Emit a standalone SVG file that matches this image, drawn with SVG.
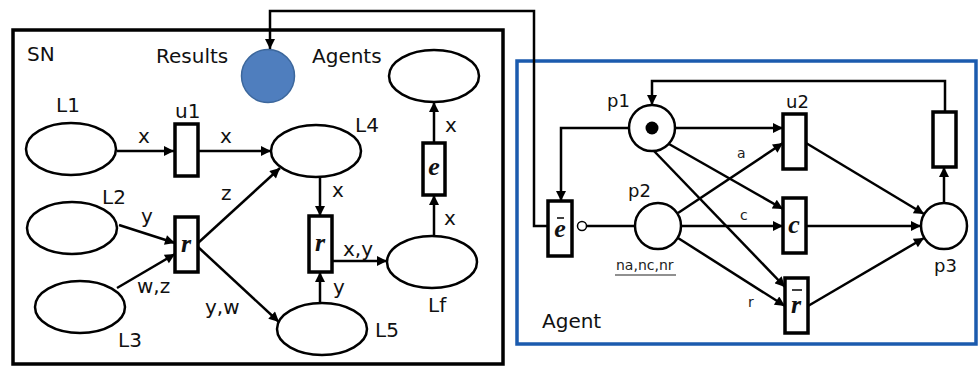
<svg xmlns="http://www.w3.org/2000/svg" width="979" height="367" viewBox="0 0 979 367">
  <style>
    .lbl { font-family: "DejaVu Sans", "Liberation Sans", sans-serif; font-size: 20px; fill: #111; }
    .plbl { font-family: "DejaVu Sans", "Liberation Sans", sans-serif; font-size: 18px; fill: #111; }
    .small { font-family: "DejaVu Sans", "Liberation Sans", sans-serif; font-size: 14px; fill: #222; }
    .sym { font-family: "Liberation Serif", "DejaVu Serif", serif; font-weight: bold; font-style: italic; font-size: 26px; fill: #111; text-anchor: middle; }
    .place { fill: #fff; stroke: #000; stroke-width: 2.5; }
    .bar { fill: #fff; stroke: #000; stroke-width: 3.5; }
    .arc { fill: none; stroke: #000; stroke-width: 2.5; }
    .ovl { stroke: #000; stroke-width: 1.5; }
  </style>
  <defs>
    <marker id="ah" viewBox="0 0 10 10" refX="10" refY="5" markerWidth="11" markerHeight="10" markerUnits="userSpaceOnUse" orient="auto">
      <path d="M0,0 L10,5 L0,10 z" fill="#000"/>
    </marker>
  </defs>

  <rect width="979" height="367" fill="#fff"/>

  <!-- SN frame -->
  <g id="sn-frame">
    <rect x="13" y="30" width="490" height="334" fill="none" stroke="#000" stroke-width="3.5"/>
    <text class="lbl" x="27" y="61">SN</text>
    <text class="lbl" x="156" y="63">Results</text>
    <text class="lbl" x="312" y="63">Agents</text>
  </g>

  <!-- Agent frame -->
  <g id="agent-frame">
    <rect x="517" y="61" width="459" height="283" fill="none" stroke="#1B5BAE" stroke-width="3.5"/>
    <text class="lbl" x="542" y="328">Agent</text>
  </g>

  <!-- connectors -->
  <g id="connectors">
    <!-- SN net -->
    <path class="arc" d="M117,151 H174" marker-end="url(#ah)"/>
    <path class="arc" d="M198,151 H271" marker-end="url(#ah)"/>
    <path class="arc" d="M119,225 L175,243" marker-end="url(#ah)"/>
    <path class="arc" d="M117,288 L175,254" marker-end="url(#ah)"/>
    <path class="arc" d="M198,243 L280,168" marker-end="url(#ah)"/>
    <path class="arc" d="M198,247 L279,322" marker-end="url(#ah)"/>
    <path class="arc" d="M320,177 V216" marker-end="url(#ah)"/>
    <path class="arc" d="M320,303 V272" marker-end="url(#ah)"/>
    <path class="arc" d="M332,261 H387" marker-end="url(#ah)"/>
    <path class="arc" d="M434,236 V195" marker-end="url(#ah)"/>
    <path class="arc" d="M434,143 V102" marker-end="url(#ah)"/>
    <!-- e-bar to Results -->
    <path class="arc" d="M548,226 H534 V11 H270 V49" marker-end="url(#ah)"/>
    <!-- Agent net -->
    <path class="arc" d="M945,112 V81 H652 V105" marker-end="url(#ah)"/>
    <path class="arc" d="M629,128 H561 V201" marker-end="url(#ah)"/>
    <path class="arc" d="M675,128 H783" marker-end="url(#ah)"/>
    <path class="arc" d="M669,144 L783,209" marker-end="url(#ah)"/>
    <path class="arc" d="M654,151 L785,287" marker-end="url(#ah)"/>
    <path class="arc" d="M678,213 L783,143" marker-end="url(#ah)"/>
    <path class="arc" d="M681,226 H783" marker-end="url(#ah)"/>
    <path class="arc" d="M678,238 L785,306" marker-end="url(#ah)"/>
    <path class="arc" d="M806,143 L924,214" marker-end="url(#ah)"/>
    <path class="arc" d="M806,226 H921" marker-end="url(#ah)"/>
    <path class="arc" d="M808,306 L924,238" marker-end="url(#ah)"/>
    <path class="arc" d="M944,203 V167" marker-end="url(#ah)"/>
    <!-- inhibitor arc p2 to e-bar -->
    <path class="arc" d="M635,226 H587"/>
    <circle cx="582" cy="226" r="4.5" fill="#fff" stroke="#000" stroke-width="1.5"/>

    <!-- arc labels -->
    <text class="lbl" x="138" y="143">x</text>
    <text class="lbl" x="220" y="143">x</text>
    <text class="lbl" x="141" y="223">y</text>
    <text class="lbl" x="137" y="293">w,z</text>
    <text class="lbl" x="221" y="200">z</text>
    <text class="lbl" x="205" y="314">y,w</text>
    <text class="lbl" x="332" y="197">x</text>
    <text class="lbl" x="343" y="256">x,y</text>
    <text class="lbl" x="333" y="294">y</text>
    <text class="lbl" x="444" y="225">x</text>
    <text class="lbl" x="445" y="132">x</text>
    <text class="small" x="737" y="158">a</text>
    <text class="small" x="740" y="220">c</text>
    <text class="small" x="748" y="307">r</text>
  </g>

  <!-- SN places -->
  <g id="results">
    <circle cx="268" cy="76" r="26.5" fill="#4F7EBE" stroke="#3C679C" stroke-width="1.5"/>
  </g>
  <g id="agents">
    <ellipse class="place" cx="434" cy="76" rx="45" ry="26"/>
  </g>
  <g id="L1">
    <ellipse class="place" cx="71" cy="149" rx="45" ry="26"/>
    <text class="lbl" x="56" y="112">L1</text>
  </g>
  <g id="L2">
    <ellipse class="place" cx="72" cy="228" rx="45" ry="26"/>
    <text class="lbl" x="102" y="204">L2</text>
  </g>
  <g id="L3">
    <ellipse class="place" cx="80" cy="307" rx="45" ry="26"/>
    <text class="lbl" x="118" y="347">L3</text>
  </g>
  <g id="L4">
    <ellipse class="place" cx="316" cy="151" rx="45" ry="26"/>
    <text class="lbl" x="355" y="132">L4</text>
  </g>
  <g id="L5">
    <ellipse class="place" cx="322" cy="329" rx="45" ry="26"/>
    <text class="lbl" x="375" y="337">L5</text>
  </g>
  <g id="Lf">
    <ellipse class="place" cx="432" cy="262" rx="45" ry="26"/>
    <text class="lbl" x="428" y="312">Lf</text>
  </g>

  <!-- SN transitions -->
  <g id="u1">
    <rect class="bar" x="175" y="124" width="23" height="52"/>
    <text class="lbl" x="175" y="118">u1</text>
  </g>
  <g id="r-left">
    <rect class="bar" x="175" y="217" width="23" height="55"/>
    <text class="sym" x="186" y="252">r</text>
  </g>
  <g id="r-mid">
    <rect class="bar" x="309" y="216" width="23" height="56"/>
    <text class="sym" x="320" y="251">r</text>
  </g>
  <g id="e-sn">
    <rect class="bar" x="423" y="143" width="22" height="52"/>
    <text class="sym" x="434" y="175">e</text>
  </g>

  <!-- Agent places -->
  <g id="p1">
    <circle class="place" cx="652" cy="128" r="23"/>
    <circle cx="652" cy="128" r="6.5" fill="#000"/>
    <text class="plbl" x="607" y="107">p1</text>
  </g>
  <g id="p2">
    <circle class="place" cx="658" cy="226" r="23"/>
    <text class="plbl" x="628" y="197">p2</text>
    <text x="616" y="270" font-family="DejaVu Sans, Liberation Sans, sans-serif" font-size="14" fill="#222">na,nc,nr</text>
    <line x1="615" y1="275" x2="676" y2="275" stroke="#222" stroke-width="1.2"/>
  </g>
  <g id="p3">
    <circle class="place" cx="944" cy="226" r="23"/>
    <text class="plbl" x="934" y="272">p3</text>
  </g>

  <!-- Agent transitions -->
  <g id="e-bar">
    <rect class="bar" x="548" y="201" width="24" height="55"/>
    <text class="sym" x="560" y="237">e</text>
    <line class="ovl" x1="557" y1="218" x2="564" y2="218"/>
  </g>
  <g id="u2">
    <rect class="bar" x="783" y="114" width="23" height="55"/>
    <text class="plbl" x="786" y="108">u2</text>
  </g>
  <g id="c">
    <rect class="bar" x="783" y="198" width="23" height="55"/>
    <text class="sym" x="794" y="233" font-size="30">c</text>
  </g>
  <g id="r-bar">
    <rect class="bar" x="785" y="278" width="23" height="55"/>
    <text class="sym" x="796" y="313" font-size="28">r</text>
    <line class="ovl" x1="792" y1="290" x2="802" y2="290"/>
  </g>
  <g id="t-return">
    <rect class="bar" x="933" y="112" width="23" height="55"/>
  </g>
</svg>
